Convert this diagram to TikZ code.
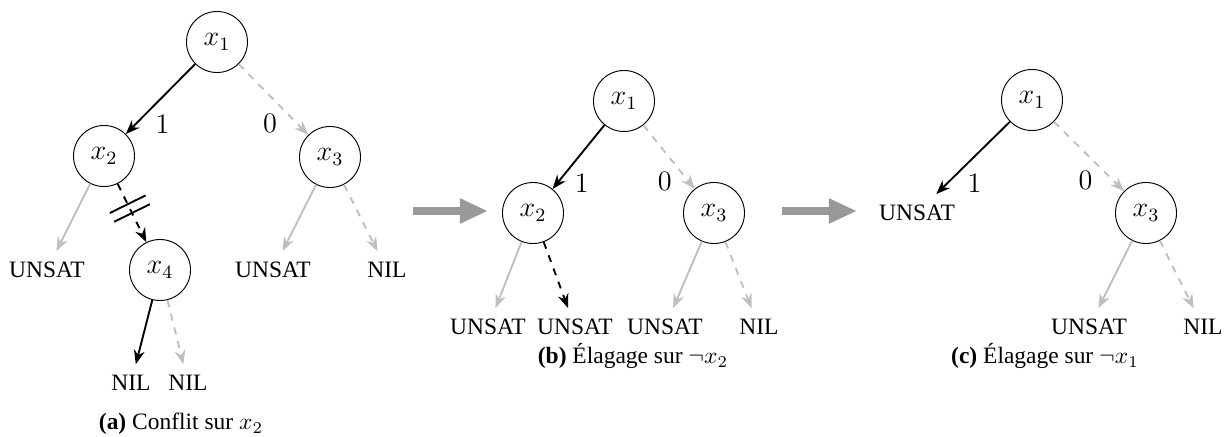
\documentclass[tikz,border=0pt]{standalone}
\usepackage[no-math]{fontspec}
\setmainfont{Liberation Serif}
\usetikzlibrary{positioning,arrows.meta}

\begin{document}
\begin{tikzpicture}[x=0.426pt, y=-0.426pt,
    var/.style={draw, circle, minimum size=26pt, inner sep=0pt, font=\fontsize{12}{14}\selectfont},
    leaf/.style={inner sep=4.5pt, font=\fontsize{10}{12}\selectfont},
    lab/.style={text=black, inner sep=2pt, font=\fontsize{12}{14}\selectfont},
    captext/.style={font=\fontsize{10}{12}\selectfont},
    arr/.style={-{Stealth[length=6pt, width=4.6pt]}, thick},
    hi/.style={arr, black},
    lo/.style={arr, black!25, dashed},
    gr/.style={arr, black!25},
    cutarr/.style={arr, black, dashed},
    bar/.style={draw, solid, thick, black, rectangle, sloped, minimum width=0pt, minimum height=17pt, inner sep=0pt},
    bigarr/.style={-{Triangle[length=12pt, width=10pt]}, line width=3pt, black!40}]
  \useasboundingbox (0,0) rectangle (1231,436);

  % (a) conflit
  \node[var] (a1) at (217,42) {$x_1$};
  \node[var] (a2) at (104,156) {$x_2$};
  \node[var] (a3) at (330,157) {$x_3$};
  \node[var] (a4) at (160,270) {$x_4$};
  \node[leaf] (a5) at (47,270) {UNSAT};
  \node[leaf] (a6) at (273,270) {UNSAT};
  \node[leaf] (a7) at (387,270) {NIL};
  \node[leaf] (a8) at (131,383) {NIL};
  \node[leaf] (a9) at (188,383) {NIL};
  \node[captext] (capa) at (181,424) {\textbf{(a)} Conflit sur $x_2$};
  \draw[hi] (a1) -- node[lab, pos=.65, anchor=north west] {$1$} (a2);
  \draw[lo] (a1) -- node[lab, pos=.63, anchor=north east] {$0$} (a3);
  \draw[gr] (a2) -- (a5);
  \draw[cutarr] (a2) -- node[bar, pos=.35] {} node[bar, pos=.5] {} (a4);
  \draw[gr] (a3) -- (a6);
  \draw[lo] (a3) -- (a7);
  \draw[hi] (a4) -- (a8);
  \draw[lo] (a4) -- (a9);

  \coordinate (g1) at (413,211);
  \coordinate (g2) at (488,211);
  \draw[bigarr] (g1) -- (g2);

  % (b) elagage sur x2
  \node[var] (b1) at (624,101) {$x_1$};
  \node[var] (b2) at (533,213) {$x_2$};
  \node[var] (b3) at (714,213) {$x_3$};
  \node[leaf] (b4) at (488,327) {UNSAT};
  \node[leaf] (b5) at (575,327) {UNSAT};
  \node[leaf] (b6) at (665,327) {UNSAT};
  \node[leaf] (b7) at (759,327) {NIL};
  \node[captext] (capb) at (633,356) {\textbf{(b)} Élagage sur $\neg x_2$};
  \draw[hi] (b1) -- node[lab, pos=.68, anchor=north west] {$1$} (b2);
  \draw[lo] (b1) -- node[lab, pos=.66, anchor=north east] {$0$} (b3);
  \draw[gr] (b2) -- (b4);
  \draw[cutarr] (b2) -- (b5);
  \draw[gr] (b3) -- (b6);
  \draw[lo] (b3) -- (b7);

  \coordinate (g3) at (782,211);
  \coordinate (g4) at (857,211);
  \draw[bigarr] (g3) -- (g4);

  % (c) elagage sur x1
  \node[var] (c1) at (1032,100) {$x_1$};
  \node[leaf] (c2) at (917,213) {UNSAT};
  \node[var] (c3) at (1146,213) {$x_3$};
  \node[leaf] (c4) at (1089,327) {UNSAT};
  \node[leaf] (c5) at (1203,327) {NIL};
  \node[captext] (capc) at (1045,356) {\textbf{(c)} Élagage sur $\neg x_1$};
  \draw[hi] (c1) -- node[lab, pos=.65, anchor=north west] {$1$} (c2);
  \draw[lo] (c1) -- node[lab, pos=.63, anchor=north east] {$0$} (c3);
  \draw[gr] (c3) -- (c4);
  \draw[lo] (c3) -- (c5);
\end{tikzpicture}
\end{document}
